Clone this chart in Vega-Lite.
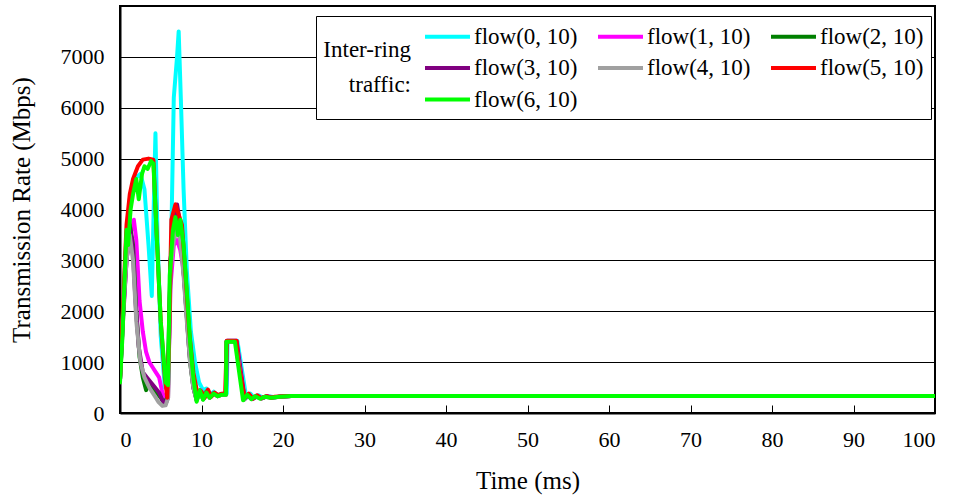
{
  "$schema": "https://vega.github.io/schema/vega-lite/v6.json",
  "width": 815,
  "height": 407,
  "autosize": {"type": "none"},
  "padding": {"left": 120, "top": 6, "right": 23, "bottom": 82},
  "background": "white",
  "config": {
    "font": "Liberation Serif",
    "view": {"stroke": "black", "strokeWidth": 2}
  },
  "data": {
    "values": [
      {"flow": "flow(0, 10)", "t": 0, "rate": 650}, {"flow": "flow(0, 10)", "t": 0.5, "rate": 2500}, {"flow": "flow(0, 10)", "t": 0.8, "rate": 3500}, {"flow": "flow(0, 10)", "t": 1.2, "rate": 4200}, {"flow": "flow(0, 10)", "t": 1.8, "rate": 4600}, {"flow": "flow(0, 10)", "t": 2.5, "rate": 4700}, {"flow": "flow(0, 10)", "t": 3.0, "rate": 4400}, {"flow": "flow(0, 10)", "t": 3.5, "rate": 3300}, {"flow": "flow(0, 10)", "t": 3.9, "rate": 2300}, {"flow": "flow(0, 10)", "t": 4.2, "rate": 4500}, {"flow": "flow(0, 10)", "t": 4.35, "rate": 5500}, {"flow": "flow(0, 10)", "t": 4.6, "rate": 3500}, {"flow": "flow(0, 10)", "t": 5.0, "rate": 1500}, {"flow": "flow(0, 10)", "t": 5.5, "rate": 500}, {"flow": "flow(0, 10)", "t": 5.9, "rate": 700}, {"flow": "flow(0, 10)", "t": 6.3, "rate": 3500}, {"flow": "flow(0, 10)", "t": 6.6, "rate": 6200}, {"flow": "flow(0, 10)", "t": 7.0, "rate": 7000}, {"flow": "flow(0, 10)", "t": 7.2, "rate": 7500}, {"flow": "flow(0, 10)", "t": 7.5, "rate": 6000}, {"flow": "flow(0, 10)", "t": 7.8, "rate": 4400}, {"flow": "flow(0, 10)", "t": 8.2, "rate": 2800}, {"flow": "flow(0, 10)", "t": 8.7, "rate": 1600}, {"flow": "flow(0, 10)", "t": 9.2, "rate": 1000}, {"flow": "flow(0, 10)", "t": 9.7, "rate": 600}, {"flow": "flow(0, 10)", "t": 10.2, "rate": 450}, {"flow": "flow(0, 10)", "t": 10.6, "rate": 480}, {"flow": "flow(0, 10)", "t": 11.0, "rate": 350}, {"flow": "flow(0, 10)", "t": 11.5, "rate": 420}, {"flow": "flow(0, 10)", "t": 12.0, "rate": 350}, {"flow": "flow(0, 10)", "t": 12.6, "rate": 380}, {"flow": "flow(0, 10)", "t": 13.1, "rate": 380}, {"flow": "flow(0, 10)", "t": 13.2, "rate": 1420}, {"flow": "flow(0, 10)", "t": 14.4, "rate": 1420}, {"flow": "flow(0, 10)", "t": 15.5, "rate": 300}, {"flow": "flow(0, 10)", "t": 16.0, "rate": 380}, {"flow": "flow(0, 10)", "t": 16.5, "rate": 290}, {"flow": "flow(0, 10)", "t": 17.0, "rate": 350}, {"flow": "flow(0, 10)", "t": 17.5, "rate": 300}, {"flow": "flow(0, 10)", "t": 18.2, "rate": 330}, {"flow": "flow(0, 10)", "t": 19.0, "rate": 310}, {"flow": "flow(0, 10)", "t": 20.0, "rate": 330}, {"flow": "flow(0, 10)", "t": 21, "rate": 335}, {"flow": "flow(0, 10)", "t": 100, "rate": 335},

      {"flow": "flow(1, 10)", "t": 0, "rate": 650}, {"flow": "flow(1, 10)", "t": 0.4, "rate": 2000}, {"flow": "flow(1, 10)", "t": 0.8, "rate": 3000}, {"flow": "flow(1, 10)", "t": 1.2, "rate": 3500}, {"flow": "flow(1, 10)", "t": 1.7, "rate": 3800}, {"flow": "flow(1, 10)", "t": 2.0, "rate": 3400}, {"flow": "flow(1, 10)", "t": 2.4, "rate": 2200}, {"flow": "flow(1, 10)", "t": 2.8, "rate": 1600}, {"flow": "flow(1, 10)", "t": 3.2, "rate": 1200}, {"flow": "flow(1, 10)", "t": 3.6, "rate": 1000}, {"flow": "flow(1, 10)", "t": 4.0, "rate": 900}, {"flow": "flow(1, 10)", "t": 4.4, "rate": 800}, {"flow": "flow(1, 10)", "t": 4.8, "rate": 700}, {"flow": "flow(1, 10)", "t": 5.2, "rate": 400}, {"flow": "flow(1, 10)", "t": 5.6, "rate": 250}, {"flow": "flow(1, 10)", "t": 5.9, "rate": 500}, {"flow": "flow(1, 10)", "t": 6.2, "rate": 2500}, {"flow": "flow(1, 10)", "t": 6.6, "rate": 3300}, {"flow": "flow(1, 10)", "t": 7.0, "rate": 3400}, {"flow": "flow(1, 10)", "t": 7.4, "rate": 3200}, {"flow": "flow(1, 10)", "t": 7.8, "rate": 2800}, {"flow": "flow(1, 10)", "t": 8.2, "rate": 2000}, {"flow": "flow(1, 10)", "t": 8.6, "rate": 1200}, {"flow": "flow(1, 10)", "t": 9.0, "rate": 600}, {"flow": "flow(1, 10)", "t": 9.5, "rate": 330}, {"flow": "flow(1, 10)", "t": 9.9, "rate": 450}, {"flow": "flow(1, 10)", "t": 10.3, "rate": 280}, {"flow": "flow(1, 10)", "t": 10.7, "rate": 420}, {"flow": "flow(1, 10)", "t": 11.1, "rate": 320}, {"flow": "flow(1, 10)", "t": 11.6, "rate": 390}, {"flow": "flow(1, 10)", "t": 12.1, "rate": 340}, {"flow": "flow(1, 10)", "t": 12.6, "rate": 370}, {"flow": "flow(1, 10)", "t": 13.0, "rate": 370}, {"flow": "flow(1, 10)", "t": 13.1, "rate": 1420}, {"flow": "flow(1, 10)", "t": 14.3, "rate": 1420}, {"flow": "flow(1, 10)", "t": 15.3, "rate": 280}, {"flow": "flow(1, 10)", "t": 15.8, "rate": 370}, {"flow": "flow(1, 10)", "t": 16.3, "rate": 280}, {"flow": "flow(1, 10)", "t": 16.8, "rate": 340}, {"flow": "flow(1, 10)", "t": 17.4, "rate": 290}, {"flow": "flow(1, 10)", "t": 18.0, "rate": 330}, {"flow": "flow(1, 10)", "t": 18.8, "rate": 310}, {"flow": "flow(1, 10)", "t": 19.8, "rate": 325}, {"flow": "flow(1, 10)", "t": 21, "rate": 335}, {"flow": "flow(1, 10)", "t": 100, "rate": 335},

      {"flow": "flow(2, 10)", "t": 0, "rate": 650}, {"flow": "flow(2, 10)", "t": 0.4, "rate": 2000}, {"flow": "flow(2, 10)", "t": 0.8, "rate": 3200}, {"flow": "flow(2, 10)", "t": 1.2, "rate": 3700}, {"flow": "flow(2, 10)", "t": 1.6, "rate": 3300}, {"flow": "flow(2, 10)", "t": 2.0, "rate": 2000}, {"flow": "flow(2, 10)", "t": 2.4, "rate": 1100}, {"flow": "flow(2, 10)", "t": 2.8, "rate": 700}, {"flow": "flow(2, 10)", "t": 3.2, "rate": 450}, {"flow": "flow(2, 10)", "t": 3.6, "rate": 600}, {"flow": "flow(2, 10)", "t": 4.0, "rate": 500}, {"flow": "flow(2, 10)", "t": 4.5, "rate": 400}, {"flow": "flow(2, 10)", "t": 5.0, "rate": 300}, {"flow": "flow(2, 10)", "t": 5.4, "rate": 200}, {"flow": "flow(2, 10)", "t": 5.8, "rate": 300}, {"flow": "flow(2, 10)", "t": 6.2, "rate": 3000}, {"flow": "flow(2, 10)", "t": 6.6, "rate": 3700}, {"flow": "flow(2, 10)", "t": 7.0, "rate": 3900}, {"flow": "flow(2, 10)", "t": 7.4, "rate": 3600}, {"flow": "flow(2, 10)", "t": 7.8, "rate": 2800}, {"flow": "flow(2, 10)", "t": 8.2, "rate": 1900}, {"flow": "flow(2, 10)", "t": 8.6, "rate": 1000}, {"flow": "flow(2, 10)", "t": 9.0, "rate": 500}, {"flow": "flow(2, 10)", "t": 9.4, "rate": 250}, {"flow": "flow(2, 10)", "t": 9.8, "rate": 430}, {"flow": "flow(2, 10)", "t": 10.2, "rate": 270}, {"flow": "flow(2, 10)", "t": 10.6, "rate": 410}, {"flow": "flow(2, 10)", "t": 11.0, "rate": 300}, {"flow": "flow(2, 10)", "t": 11.5, "rate": 380}, {"flow": "flow(2, 10)", "t": 12.0, "rate": 330}, {"flow": "flow(2, 10)", "t": 12.5, "rate": 360}, {"flow": "flow(2, 10)", "t": 13.0, "rate": 360}, {"flow": "flow(2, 10)", "t": 13.05, "rate": 1400}, {"flow": "flow(2, 10)", "t": 14.2, "rate": 1400}, {"flow": "flow(2, 10)", "t": 15.2, "rate": 260}, {"flow": "flow(2, 10)", "t": 15.7, "rate": 360}, {"flow": "flow(2, 10)", "t": 16.2, "rate": 270}, {"flow": "flow(2, 10)", "t": 16.7, "rate": 330}, {"flow": "flow(2, 10)", "t": 17.3, "rate": 285}, {"flow": "flow(2, 10)", "t": 17.9, "rate": 320}, {"flow": "flow(2, 10)", "t": 18.6, "rate": 300}, {"flow": "flow(2, 10)", "t": 19.6, "rate": 320}, {"flow": "flow(2, 10)", "t": 21, "rate": 335}, {"flow": "flow(2, 10)", "t": 100, "rate": 335},

      {"flow": "flow(3, 10)", "t": 0, "rate": 650}, {"flow": "flow(3, 10)", "t": 0.4, "rate": 1900}, {"flow": "flow(3, 10)", "t": 0.8, "rate": 3000}, {"flow": "flow(3, 10)", "t": 1.2, "rate": 3600}, {"flow": "flow(3, 10)", "t": 1.5, "rate": 3400}, {"flow": "flow(3, 10)", "t": 1.9, "rate": 2200}, {"flow": "flow(3, 10)", "t": 2.3, "rate": 1300}, {"flow": "flow(3, 10)", "t": 2.8, "rate": 800}, {"flow": "flow(3, 10)", "t": 3.3, "rate": 700}, {"flow": "flow(3, 10)", "t": 3.8, "rate": 600}, {"flow": "flow(3, 10)", "t": 4.3, "rate": 500}, {"flow": "flow(3, 10)", "t": 4.8, "rate": 400}, {"flow": "flow(3, 10)", "t": 5.2, "rate": 250}, {"flow": "flow(3, 10)", "t": 5.6, "rate": 180}, {"flow": "flow(3, 10)", "t": 5.9, "rate": 300}, {"flow": "flow(3, 10)", "t": 6.2, "rate": 3000}, {"flow": "flow(3, 10)", "t": 6.6, "rate": 3600}, {"flow": "flow(3, 10)", "t": 7.0, "rate": 4100}, {"flow": "flow(3, 10)", "t": 7.3, "rate": 3800}, {"flow": "flow(3, 10)", "t": 7.7, "rate": 3000}, {"flow": "flow(3, 10)", "t": 8.1, "rate": 2100}, {"flow": "flow(3, 10)", "t": 8.5, "rate": 1200}, {"flow": "flow(3, 10)", "t": 9.0, "rate": 500}, {"flow": "flow(3, 10)", "t": 9.4, "rate": 260}, {"flow": "flow(3, 10)", "t": 9.8, "rate": 440}, {"flow": "flow(3, 10)", "t": 10.2, "rate": 280}, {"flow": "flow(3, 10)", "t": 10.6, "rate": 420}, {"flow": "flow(3, 10)", "t": 11.0, "rate": 310}, {"flow": "flow(3, 10)", "t": 11.5, "rate": 390}, {"flow": "flow(3, 10)", "t": 12.0, "rate": 340}, {"flow": "flow(3, 10)", "t": 12.5, "rate": 370}, {"flow": "flow(3, 10)", "t": 13.0, "rate": 370}, {"flow": "flow(3, 10)", "t": 13.1, "rate": 1410}, {"flow": "flow(3, 10)", "t": 14.3, "rate": 1410}, {"flow": "flow(3, 10)", "t": 15.3, "rate": 270}, {"flow": "flow(3, 10)", "t": 15.8, "rate": 370}, {"flow": "flow(3, 10)", "t": 16.3, "rate": 275}, {"flow": "flow(3, 10)", "t": 16.8, "rate": 335}, {"flow": "flow(3, 10)", "t": 17.4, "rate": 290}, {"flow": "flow(3, 10)", "t": 18.0, "rate": 325}, {"flow": "flow(3, 10)", "t": 18.7, "rate": 305}, {"flow": "flow(3, 10)", "t": 19.7, "rate": 322}, {"flow": "flow(3, 10)", "t": 21, "rate": 335}, {"flow": "flow(3, 10)", "t": 100, "rate": 335},

      {"flow": "flow(4, 10)", "t": 0, "rate": 650}, {"flow": "flow(4, 10)", "t": 0.4, "rate": 2000}, {"flow": "flow(4, 10)", "t": 0.8, "rate": 3000}, {"flow": "flow(4, 10)", "t": 1.2, "rate": 3500}, {"flow": "flow(4, 10)", "t": 1.6, "rate": 3000}, {"flow": "flow(4, 10)", "t": 2.0, "rate": 1800}, {"flow": "flow(4, 10)", "t": 2.5, "rate": 1000}, {"flow": "flow(4, 10)", "t": 3.0, "rate": 700}, {"flow": "flow(4, 10)", "t": 3.6, "rate": 500}, {"flow": "flow(4, 10)", "t": 4.2, "rate": 350}, {"flow": "flow(4, 10)", "t": 4.7, "rate": 220}, {"flow": "flow(4, 10)", "t": 5.2, "rate": 140}, {"flow": "flow(4, 10)", "t": 5.6, "rate": 150}, {"flow": "flow(4, 10)", "t": 5.9, "rate": 300}, {"flow": "flow(4, 10)", "t": 6.2, "rate": 2800}, {"flow": "flow(4, 10)", "t": 6.6, "rate": 3400}, {"flow": "flow(4, 10)", "t": 7.0, "rate": 3600}, {"flow": "flow(4, 10)", "t": 7.4, "rate": 3400}, {"flow": "flow(4, 10)", "t": 7.8, "rate": 2700}, {"flow": "flow(4, 10)", "t": 8.2, "rate": 1800}, {"flow": "flow(4, 10)", "t": 8.6, "rate": 1000}, {"flow": "flow(4, 10)", "t": 9.0, "rate": 500}, {"flow": "flow(4, 10)", "t": 9.4, "rate": 250}, {"flow": "flow(4, 10)", "t": 9.8, "rate": 420}, {"flow": "flow(4, 10)", "t": 10.2, "rate": 270}, {"flow": "flow(4, 10)", "t": 10.6, "rate": 400}, {"flow": "flow(4, 10)", "t": 11.0, "rate": 300}, {"flow": "flow(4, 10)", "t": 11.5, "rate": 375}, {"flow": "flow(4, 10)", "t": 12.0, "rate": 330}, {"flow": "flow(4, 10)", "t": 12.5, "rate": 360}, {"flow": "flow(4, 10)", "t": 13.0, "rate": 360}, {"flow": "flow(4, 10)", "t": 13.05, "rate": 1400}, {"flow": "flow(4, 10)", "t": 14.2, "rate": 1400}, {"flow": "flow(4, 10)", "t": 15.2, "rate": 260}, {"flow": "flow(4, 10)", "t": 15.7, "rate": 360}, {"flow": "flow(4, 10)", "t": 16.2, "rate": 270}, {"flow": "flow(4, 10)", "t": 16.7, "rate": 330}, {"flow": "flow(4, 10)", "t": 17.3, "rate": 285}, {"flow": "flow(4, 10)", "t": 17.9, "rate": 320}, {"flow": "flow(4, 10)", "t": 18.6, "rate": 300}, {"flow": "flow(4, 10)", "t": 19.6, "rate": 320}, {"flow": "flow(4, 10)", "t": 21, "rate": 335}, {"flow": "flow(4, 10)", "t": 100, "rate": 335},

      {"flow": "flow(5, 10)", "t": 0, "rate": 650}, {"flow": "flow(5, 10)", "t": 0.5, "rate": 2600}, {"flow": "flow(5, 10)", "t": 0.8, "rate": 3700}, {"flow": "flow(5, 10)", "t": 1.2, "rate": 4300}, {"flow": "flow(5, 10)", "t": 1.6, "rate": 4600}, {"flow": "flow(5, 10)", "t": 2.2, "rate": 4850}, {"flow": "flow(5, 10)", "t": 2.8, "rate": 4980}, {"flow": "flow(5, 10)", "t": 3.5, "rate": 5000}, {"flow": "flow(5, 10)", "t": 4.1, "rate": 4980}, {"flow": "flow(5, 10)", "t": 4.5, "rate": 3500}, {"flow": "flow(5, 10)", "t": 5.0, "rate": 1800}, {"flow": "flow(5, 10)", "t": 5.5, "rate": 700}, {"flow": "flow(5, 10)", "t": 5.8, "rate": 300}, {"flow": "flow(5, 10)", "t": 6.0, "rate": 1300}, {"flow": "flow(5, 10)", "t": 6.3, "rate": 3800}, {"flow": "flow(5, 10)", "t": 6.8, "rate": 4100}, {"flow": "flow(5, 10)", "t": 7.2, "rate": 3900}, {"flow": "flow(5, 10)", "t": 7.6, "rate": 3700}, {"flow": "flow(5, 10)", "t": 8.0, "rate": 2800}, {"flow": "flow(5, 10)", "t": 8.5, "rate": 1600}, {"flow": "flow(5, 10)", "t": 9.0, "rate": 800}, {"flow": "flow(5, 10)", "t": 9.5, "rate": 380}, {"flow": "flow(5, 10)", "t": 10.0, "rate": 420}, {"flow": "flow(5, 10)", "t": 10.4, "rate": 300}, {"flow": "flow(5, 10)", "t": 10.8, "rate": 460}, {"flow": "flow(5, 10)", "t": 11.2, "rate": 320}, {"flow": "flow(5, 10)", "t": 11.6, "rate": 400}, {"flow": "flow(5, 10)", "t": 12.0, "rate": 350}, {"flow": "flow(5, 10)", "t": 12.5, "rate": 380}, {"flow": "flow(5, 10)", "t": 12.9, "rate": 380}, {"flow": "flow(5, 10)", "t": 13.1, "rate": 1420}, {"flow": "flow(5, 10)", "t": 14.3, "rate": 1420}, {"flow": "flow(5, 10)", "t": 14.5, "rate": 1000}, {"flow": "flow(5, 10)", "t": 15.3, "rate": 300}, {"flow": "flow(5, 10)", "t": 15.8, "rate": 380}, {"flow": "flow(5, 10)", "t": 16.3, "rate": 280}, {"flow": "flow(5, 10)", "t": 16.8, "rate": 350}, {"flow": "flow(5, 10)", "t": 17.3, "rate": 290}, {"flow": "flow(5, 10)", "t": 18.0, "rate": 330}, {"flow": "flow(5, 10)", "t": 18.5, "rate": 300}, {"flow": "flow(5, 10)", "t": 19.0, "rate": 320}, {"flow": "flow(5, 10)", "t": 20.0, "rate": 330}, {"flow": "flow(5, 10)", "t": 21, "rate": 335}, {"flow": "flow(5, 10)", "t": 100, "rate": 335},

      {"flow": "flow(6, 10)", "t": 0, "rate": 600}, {"flow": "flow(6, 10)", "t": 0.3, "rate": 1500}, {"flow": "flow(6, 10)", "t": 0.6, "rate": 2800}, {"flow": "flow(6, 10)", "t": 0.8, "rate": 3600}, {"flow": "flow(6, 10)", "t": 1.0, "rate": 3300}, {"flow": "flow(6, 10)", "t": 1.3, "rate": 4000}, {"flow": "flow(6, 10)", "t": 1.6, "rate": 4300}, {"flow": "flow(6, 10)", "t": 2.0, "rate": 4600}, {"flow": "flow(6, 10)", "t": 2.3, "rate": 4200}, {"flow": "flow(6, 10)", "t": 2.7, "rate": 4700}, {"flow": "flow(6, 10)", "t": 3.0, "rate": 4850}, {"flow": "flow(6, 10)", "t": 3.4, "rate": 4800}, {"flow": "flow(6, 10)", "t": 3.8, "rate": 4950}, {"flow": "flow(6, 10)", "t": 4.1, "rate": 4900}, {"flow": "flow(6, 10)", "t": 4.5, "rate": 3500}, {"flow": "flow(6, 10)", "t": 5.0, "rate": 1800}, {"flow": "flow(6, 10)", "t": 5.6, "rate": 600}, {"flow": "flow(6, 10)", "t": 5.9, "rate": 550}, {"flow": "flow(6, 10)", "t": 6.1, "rate": 2700}, {"flow": "flow(6, 10)", "t": 6.5, "rate": 3600}, {"flow": "flow(6, 10)", "t": 6.8, "rate": 3850}, {"flow": "flow(6, 10)", "t": 7.1, "rate": 3500}, {"flow": "flow(6, 10)", "t": 7.4, "rate": 3800}, {"flow": "flow(6, 10)", "t": 7.8, "rate": 3300}, {"flow": "flow(6, 10)", "t": 8.2, "rate": 2400}, {"flow": "flow(6, 10)", "t": 8.6, "rate": 1400}, {"flow": "flow(6, 10)", "t": 9.0, "rate": 700}, {"flow": "flow(6, 10)", "t": 9.4, "rate": 220}, {"flow": "flow(6, 10)", "t": 9.8, "rate": 450}, {"flow": "flow(6, 10)", "t": 10.2, "rate": 260}, {"flow": "flow(6, 10)", "t": 10.6, "rate": 400}, {"flow": "flow(6, 10)", "t": 11.0, "rate": 300}, {"flow": "flow(6, 10)", "t": 11.5, "rate": 380}, {"flow": "flow(6, 10)", "t": 12.0, "rate": 330}, {"flow": "flow(6, 10)", "t": 12.5, "rate": 360}, {"flow": "flow(6, 10)", "t": 13.0, "rate": 360}, {"flow": "flow(6, 10)", "t": 13.05, "rate": 1400}, {"flow": "flow(6, 10)", "t": 14.1, "rate": 1400}, {"flow": "flow(6, 10)", "t": 15.1, "rate": 250}, {"flow": "flow(6, 10)", "t": 15.6, "rate": 360}, {"flow": "flow(6, 10)", "t": 16.1, "rate": 270}, {"flow": "flow(6, 10)", "t": 16.6, "rate": 330}, {"flow": "flow(6, 10)", "t": 17.2, "rate": 280}, {"flow": "flow(6, 10)", "t": 17.8, "rate": 320}, {"flow": "flow(6, 10)", "t": 18.5, "rate": 300}, {"flow": "flow(6, 10)", "t": 19.5, "rate": 320}, {"flow": "flow(6, 10)", "t": 20.5, "rate": 330}, {"flow": "flow(6, 10)", "t": 21, "rate": 335}, {"flow": "flow(6, 10)", "t": 100, "rate": 335}
    ]
  },
  "mark": {"type": "line", "strokeWidth": 4, "strokeJoin": "round", "strokeCap": "round", "clip": true},
  "encoding": {
    "x": {
      "field": "t",
      "type": "quantitative",
      "scale": {"domain": [0, 100], "nice": false},
      "axis": {
        "title": "Time (ms)",
        "values": [0, 10, 20, 30, 40, 50, 60, 70, 80, 90, 100],
        "grid": false,
        "domainColor": "black",
        "domainWidth": 2,
        "tickColor": "black",
        "tickWidth": 1,
        "tickSize": -8,
        "labelPadding": 24,
        "labelFontSize": 22,
        "labelColor": "black",
        "labelFont": "Liberation Serif",
        "titleFont": "Liberation Serif",
        "titleFontSize": 25,
        "titleFontWeight": "normal",
        "titleColor": "black",
        "titlePadding": 18
      }
    },
    "y": {
      "field": "rate",
      "type": "quantitative",
      "scale": {"domain": [0, 8000], "nice": false},
      "axis": {
        "title": "Transmission Rate (Mbps)",
        "values": [0, 1000, 2000, 3000, 4000, 5000, 6000, 7000, 8000],
        "labelExpr": "datum.value == 8000 ? '' : datum.value",
        "grid": true,
        "gridColor": "black",
        "gridWidth": 1,
        "gridOpacity": 1,
        "domainColor": "black",
        "domainWidth": 2,
        "ticks": false,
        "labelPadding": 16,
        "labelFontSize": 22,
        "labelColor": "black",
        "labelFont": "Liberation Serif",
        "titleFont": "Liberation Serif",
        "titleFontSize": 25,
        "titleFontWeight": "normal",
        "titleColor": "black",
        "titlePadding": 26
      }
    },
    "color": {
      "field": "flow",
      "type": "nominal",
      "scale": {
        "domain": ["flow(0, 10)", "flow(1, 10)", "flow(2, 10)", "flow(3, 10)", "flow(4, 10)", "flow(5, 10)", "flow(6, 10)"],
        "range": ["#00FFFF", "#FF00FF", "#008000", "#800080", "#A0A0A0", "#FF0000", "#00FF00"]
      },
      "legend": {
        "orient": "none",
        "legendX": 196,
        "legendY": 10,
        "direction": "horizontal",
        "columns": 3,
        "title": ["Inter-ring", "traffic:"],
        "titleOrient": "left",
        "titleAlign": "right",
        "titleAnchor": "middle",
        "titleBaseline": "middle",
        "titleFont": "Liberation Serif",
        "titleFontSize": 23,
        "titleFontWeight": "normal",
        "titleColor": "black",
        "titleLineHeight": 35,
        "titleLimit": 94,
        "titlePadding": -65,
        "labelFont": "Liberation Serif",
        "labelFontSize": 23,
        "labelColor": "black",
        "labelOffset": 13,
        "labelLimit": 200,
        "symbolType": "M-2,0H2",
        "symbolSize": 506,
        "symbolStrokeWidth": 4,
        "columnPadding": 12,
        "rowPadding": 5.5,
        "fillColor": "white",
        "strokeColor": "black",
        "padding": 7
      }
    },
    "order": {"field": "t", "type": "quantitative"}
  }
}
